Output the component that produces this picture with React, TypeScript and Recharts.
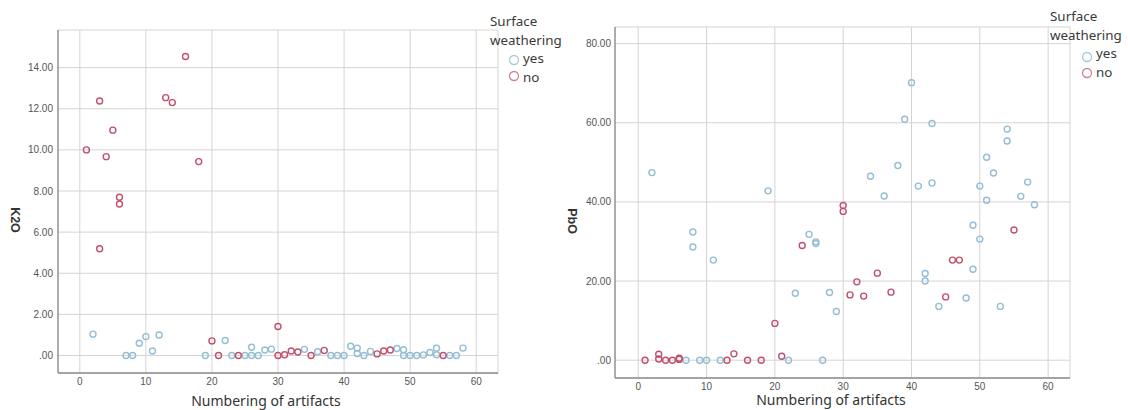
import React from 'react';
import { ScatterChart, Scatter, XAxis, YAxis, CartesianGrid } from 'recharts';

// ---------- data ----------
const xTicks = [0, 10, 20, 30, 40, 50, 60];
const k2oTicks = [0, 2, 4, 6, 8, 10, 12, 14];
const pboTicks = [0, 20, 40, 60, 80];

// K2O, weathered = yes
const k2oYesNum = [2, 7, 8, 9, 10, 11, 12, 19, 22, 23, 25, 26, 26, 27, 28, 29, 34, 36, 38, 39, 40, 41, 42, 42, 43, 44, 48, 49, 49, 50, 51, 52, 53, 54, 54, 56, 57, 58];
const k2oYesVal = [1.04, 0, 0, 0.6, 0.92, 0.22, 1.0, 0, 0.73, 0, 0, 0.4, 0, 0, 0.27, 0.31, 0.3, 0.18, 0, 0, 0, 0.45, 0.36, 0.1, 0, 0.2, 0.34, 0.28, 0, 0, 0, 0.03, 0.15, 0.35, 0.04, 0, 0, 0.36];
// K2O, weathered = no
const k2oNoNum = [1, 3, 3, 4, 5, 6, 6, 13, 14, 16, 18, 20, 21, 24, 30, 30, 31, 32, 33, 35, 37, 45, 46, 47, 55];
const k2oNoVal = [10.0, 12.38, 5.19, 9.67, 10.96, 7.7, 7.37, 12.54, 12.3, 14.54, 9.43, 0.71, 0, 0, 1.41, 0, 0.04, 0.22, 0.17, 0, 0.25, 0.08, 0.22, 0.27, 0];

// PbO, weathered = yes
const pboYesNum = [2, 7, 8, 8, 9, 10, 11, 12, 19, 22, 23, 25, 26, 26, 27, 28, 29, 34, 36, 38, 39, 40, 41, 42, 42, 43, 43, 44, 48, 49, 49, 50, 50, 51, 51, 52, 53, 54, 54, 56, 57, 58];
const pboYesVal = [47.4, 0, 32.4, 28.6, 0, 0, 25.3, 0, 42.8, 0, 16.9, 31.8, 29.9, 29.5, 0, 17.1, 12.3, 46.5, 41.5, 49.2, 60.9, 70.1, 44.0, 21.9, 20.0, 59.8, 44.8, 13.6, 15.7, 34.1, 23.0, 30.6, 44.0, 51.3, 40.4, 47.3, 13.6, 58.4, 55.4, 41.4, 45.0, 39.3];
// PbO, weathered = no
const pboNoNum = [1, 3, 3, 4, 5, 6, 6, 13, 14, 16, 18, 20, 21, 24, 30, 30, 31, 32, 33, 35, 37, 45, 46, 47, 55];
const pboNoVal = [0, 1.5, 0.3, 0, 0, 0.5, 0.2, 0, 1.6, 0, 0, 9.3, 1.0, 29.0, 39.1, 37.6, 16.5, 19.8, 16.2, 22.0, 17.2, 16.0, 25.3, 25.3, 32.9];

const legendTitle = ['Surface', 'weathering'];
const legendItems = ['yes', 'no'];

const toPoints = (xs: number[], ys: number[]) => xs.map((x, i) => ({ x, y: ys[i] }));

// ---------- styles ----------
const YES = '#93bed3';
const NO = '#c2506c';
const LEG_YES = '#a3cdd6';
const LEG_NO = '#c98598';
const GRID = '#d4d4d4';
const AXIS = '#8c8c8c';
const TICK = { fontSize: 10, fill: '#555', fontFamily: 'Liberation Sans, Arial, sans-serif' };
const TITLE_FONT = 'Noto Sans, Open Sans, sans-serif';

const ring = (color: string) => (props: any) => (
  <circle cx={props.cx} cy={props.cy} r={3} fill="none" stroke={color} strokeWidth={1.4} />
);

const fmt = (v: number) => (v === 0 ? '.00' : v.toFixed(2));

function LegendBox({ left, titleY, itemY, markerY, markerX }: { left: number; titleY: number[]; itemY: number[]; markerY: number[]; markerX: number }) {
  const txt: React.CSSProperties = { position: 'absolute', fontFamily: TITLE_FONT, fontSize: 13.4, color: '#3a3a3a', lineHeight: '14px', whiteSpace: 'nowrap' };
  return (
    <div style={{ position: 'absolute', left: 0, top: 0 }}>
      {legendTitle.map((t, i) => (
        <div key={t} style={{ ...txt, left, top: titleY[i] - 7 }}>{t}</div>
      ))}
      {legendItems.map((it, i) => (
        <React.Fragment key={it}>
          <svg width={12} height={12} style={{ position: 'absolute', left: left + markerX - 6, top: markerY[i] - 6 }}>
            <circle cx={6} cy={6} r={4.5} fill="none" stroke={i === 0 ? LEG_YES : LEG_NO} strokeWidth={1.3} />
          </svg>
          <div style={{ ...txt, left: left + markerX + 9, top: itemY[i] - 8 }}>{it}</div>
        </React.Fragment>
      ))}
    </div>
  );
}

interface PanelProps {
  width: number;
  margin: { top: number; right: number; bottom: number; left: number };
  xDomain: [number, number];
  yDomain: [number, number];
  yTicks: number[];
  yes: { x: number; y: number }[];
  no: { x: number; y: number }[];
  yTitle: string;
  yTitlePos: [number, number];
  xTitlePos: [number, number];
  tickGapY: number;
  tickGapX: number;
}

function Panel(p: PanelProps) {
  return (
    <ScatterChart width={p.width} height={410} margin={p.margin}>
      <CartesianGrid stroke={GRID} strokeWidth={1} />
      <XAxis
        type="number"
        dataKey="x"
        domain={p.xDomain}
        ticks={xTicks}
        interval={0}
        allowDataOverflow
        height={30}
        tickSize={0}
        tickMargin={p.tickGapX}
        tickLine={false}
        stroke={AXIS}
        strokeWidth={1.3}
        tick={TICK}
        label={{
          content: () => (
            <text x={p.xTitlePos[0]} y={p.xTitlePos[1]} textAnchor="middle" fontFamily={TITLE_FONT} fontSize={14} fill="#333">
              Numbering of artifacts
            </text>
          ),
        }}
      />
      <YAxis
        type="number"
        dataKey="y"
        domain={p.yDomain}
        ticks={p.yTicks}
        interval={0}
        allowDataOverflow
        width={40}
        tickSize={0}
        tickMargin={p.tickGapY}
        tickLine={false}
        stroke={AXIS}
        strokeWidth={1.3}
        tick={TICK}
        tickFormatter={fmt}
        label={{
          content: () => (
            <text
              x={p.yTitlePos[0]}
              y={p.yTitlePos[1]}
              textAnchor="middle"
              dominantBaseline="central"
              transform={`rotate(90 ${p.yTitlePos[0]} ${p.yTitlePos[1]})`}
              fontFamily="Liberation Sans, Arial, sans-serif"
              fontWeight="bold"
              fontSize={12.5}
              fill="#333"
            >
              {p.yTitle}
            </text>
          ),
        }}
      />
      <Scatter name="yes" data={p.yes} shape={ring(YES)} isAnimationActive={false} />
      <Scatter name="no" data={p.no} shape={ring(NO)} isAnimationActive={false} />
    </ScatterChart>
  );
}

export default function App() {
  return (
    <div style={{ position: 'absolute', left: 0, top: 0, width: 1128, height: 410, background: '#fff', overflow: 'hidden' }}>
      <div style={{ position: 'absolute', left: 0, top: 0 }}>
        <Panel
          width={560}
          margin={{ top: 30, right: 62, bottom: 7, left: 18 }}
          xDomain={[-3.3, 63.3]}
          yDomain={[-0.85, 15.83]}
          yTicks={k2oTicks}
          yes={toPoints(k2oYesNum, k2oYesVal)}
          no={toPoints(k2oNoNum, k2oNoVal)}
          yTitle="K2O"
          yTitlePos={[15, 220]}
          xTitlePos={[266, 406]}
          tickGapY={5}
          tickGapX={5}
        />
      </div>
      <div style={{ position: 'absolute', left: 560, top: 0 }}>
        <Panel
          width={568}
          margin={{ top: 27, right: 58, bottom: 2, left: 15 }}
          xDomain={[-3.4, 63.2]}
          yDomain={[-4.5, 84.2]}
          yTicks={pboTicks}
          yes={toPoints(pboYesNum, pboYesVal)}
          no={toPoints(pboNoNum, pboNoVal)}
          yTitle="PbO"
          yTitlePos={[12, 221]}
          xTitlePos={[271, 405]}
          tickGapY={4}
          tickGapX={5}
        />
      </div>
      <LegendBox left={490} titleY={[21, 40]} itemY={[59, 77.5]} markerY={[60, 76]} markerX={24} />
      <LegendBox left={1050} titleY={[16, 35]} itemY={[54, 72.5]} markerY={[57, 73]} markerX={37} />
    </div>
  );
}
